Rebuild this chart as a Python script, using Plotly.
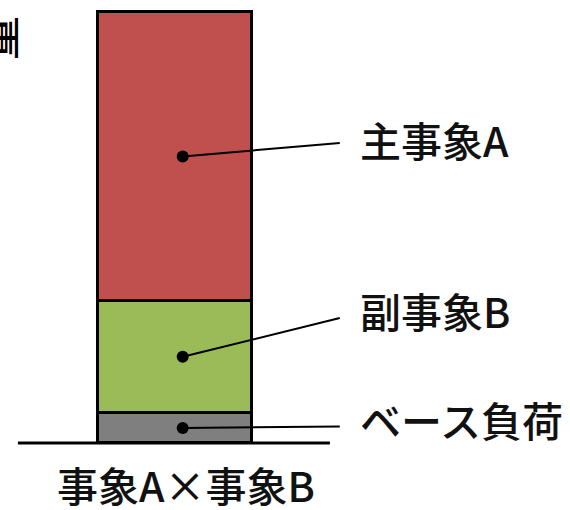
import plotly.graph_objects as go

# data
segments = ["ベース負荷", "副事象B", "主事象A"]
values = [7, 26, 67]
colors = ["#7F7F7F", "#9BBB59", "#C0504D"]
category = "事象A×事象B"
axis_title = "電力量"

W, H = 570, 510
FONT = "Noto Sans CJK JP, Noto Sans, sans-serif"

# pixel-calibrated ranges
px_per_x = 154.0
x_center_px = 175.0
xr = [-x_center_px / px_per_x, (W - x_center_px) / px_per_x]
px_per_y = 4.31
base_px = 443.0
yr = [-(H - base_px) / px_per_y, base_px / px_per_y]

fig = go.Figure()
for name, v, c in zip(segments, values, colors):
    fig.add_trace(go.Bar(x=[0], y=[v], width=1, name=name,
                         marker=dict(color=c, line=dict(color="black", width=3)),
                         showlegend=False, hoverinfo="skip"))

# dots at segment midpoints + leader lines + labels
line_end_y = [3.8, 29.0, 69.6]
label_y = [5.6, 30.8, 70.5]
cum = 0
dot_x = 0.05
line_end_x = 1.07
for name, v, ey, ly in zip(segments, values, line_end_y, label_y):
    mid = cum + v / 2
    cum += v
    fig.add_trace(go.Scatter(x=[dot_x, line_end_x], y=[mid, ey], mode="lines",
                             line=dict(color="black", width=2), showlegend=False, hoverinfo="skip"))
    fig.add_trace(go.Scatter(x=[dot_x], y=[mid], mode="markers",
                             marker=dict(color="black", size=12), showlegend=False, hoverinfo="skip"))
    fig.add_annotation(x=1.19, y=ly, text=name, showarrow=False, xanchor="left", yanchor="middle",
                       font=dict(family=FONT, size=41, color="#111111", weight=500))

# baseline
fig.add_shape(type="line", x0=-1.02, x1=1.006, y0=0, y1=0, line=dict(color="black", width=3))

# category label
fig.add_annotation(x=0.07, y=-9.6, text=category, showarrow=False, xanchor="center", yanchor="middle",
                   font=dict(family=FONT, size=41, color="#111111", weight=500))

# clipped axis title on the left
fig.add_annotation(xref="paper", yref="paper", x=0, y=(H - 38) / H, xshift=-4, text=axis_title[-1],
                   textangle=-90, showarrow=False, xanchor="center", yanchor="middle",
                   font=dict(family=FONT, size=44, color="black", weight=500))

fig.update_layout(
    width=W, height=H, margin=dict(l=0, r=0, t=0, b=0),
    paper_bgcolor="white", plot_bgcolor="white", barmode="stack", bargap=0,
    xaxis=dict(range=xr, visible=False, fixedrange=True),
    yaxis=dict(range=yr, visible=False, fixedrange=True),
)
fig.write_html("out.html")
